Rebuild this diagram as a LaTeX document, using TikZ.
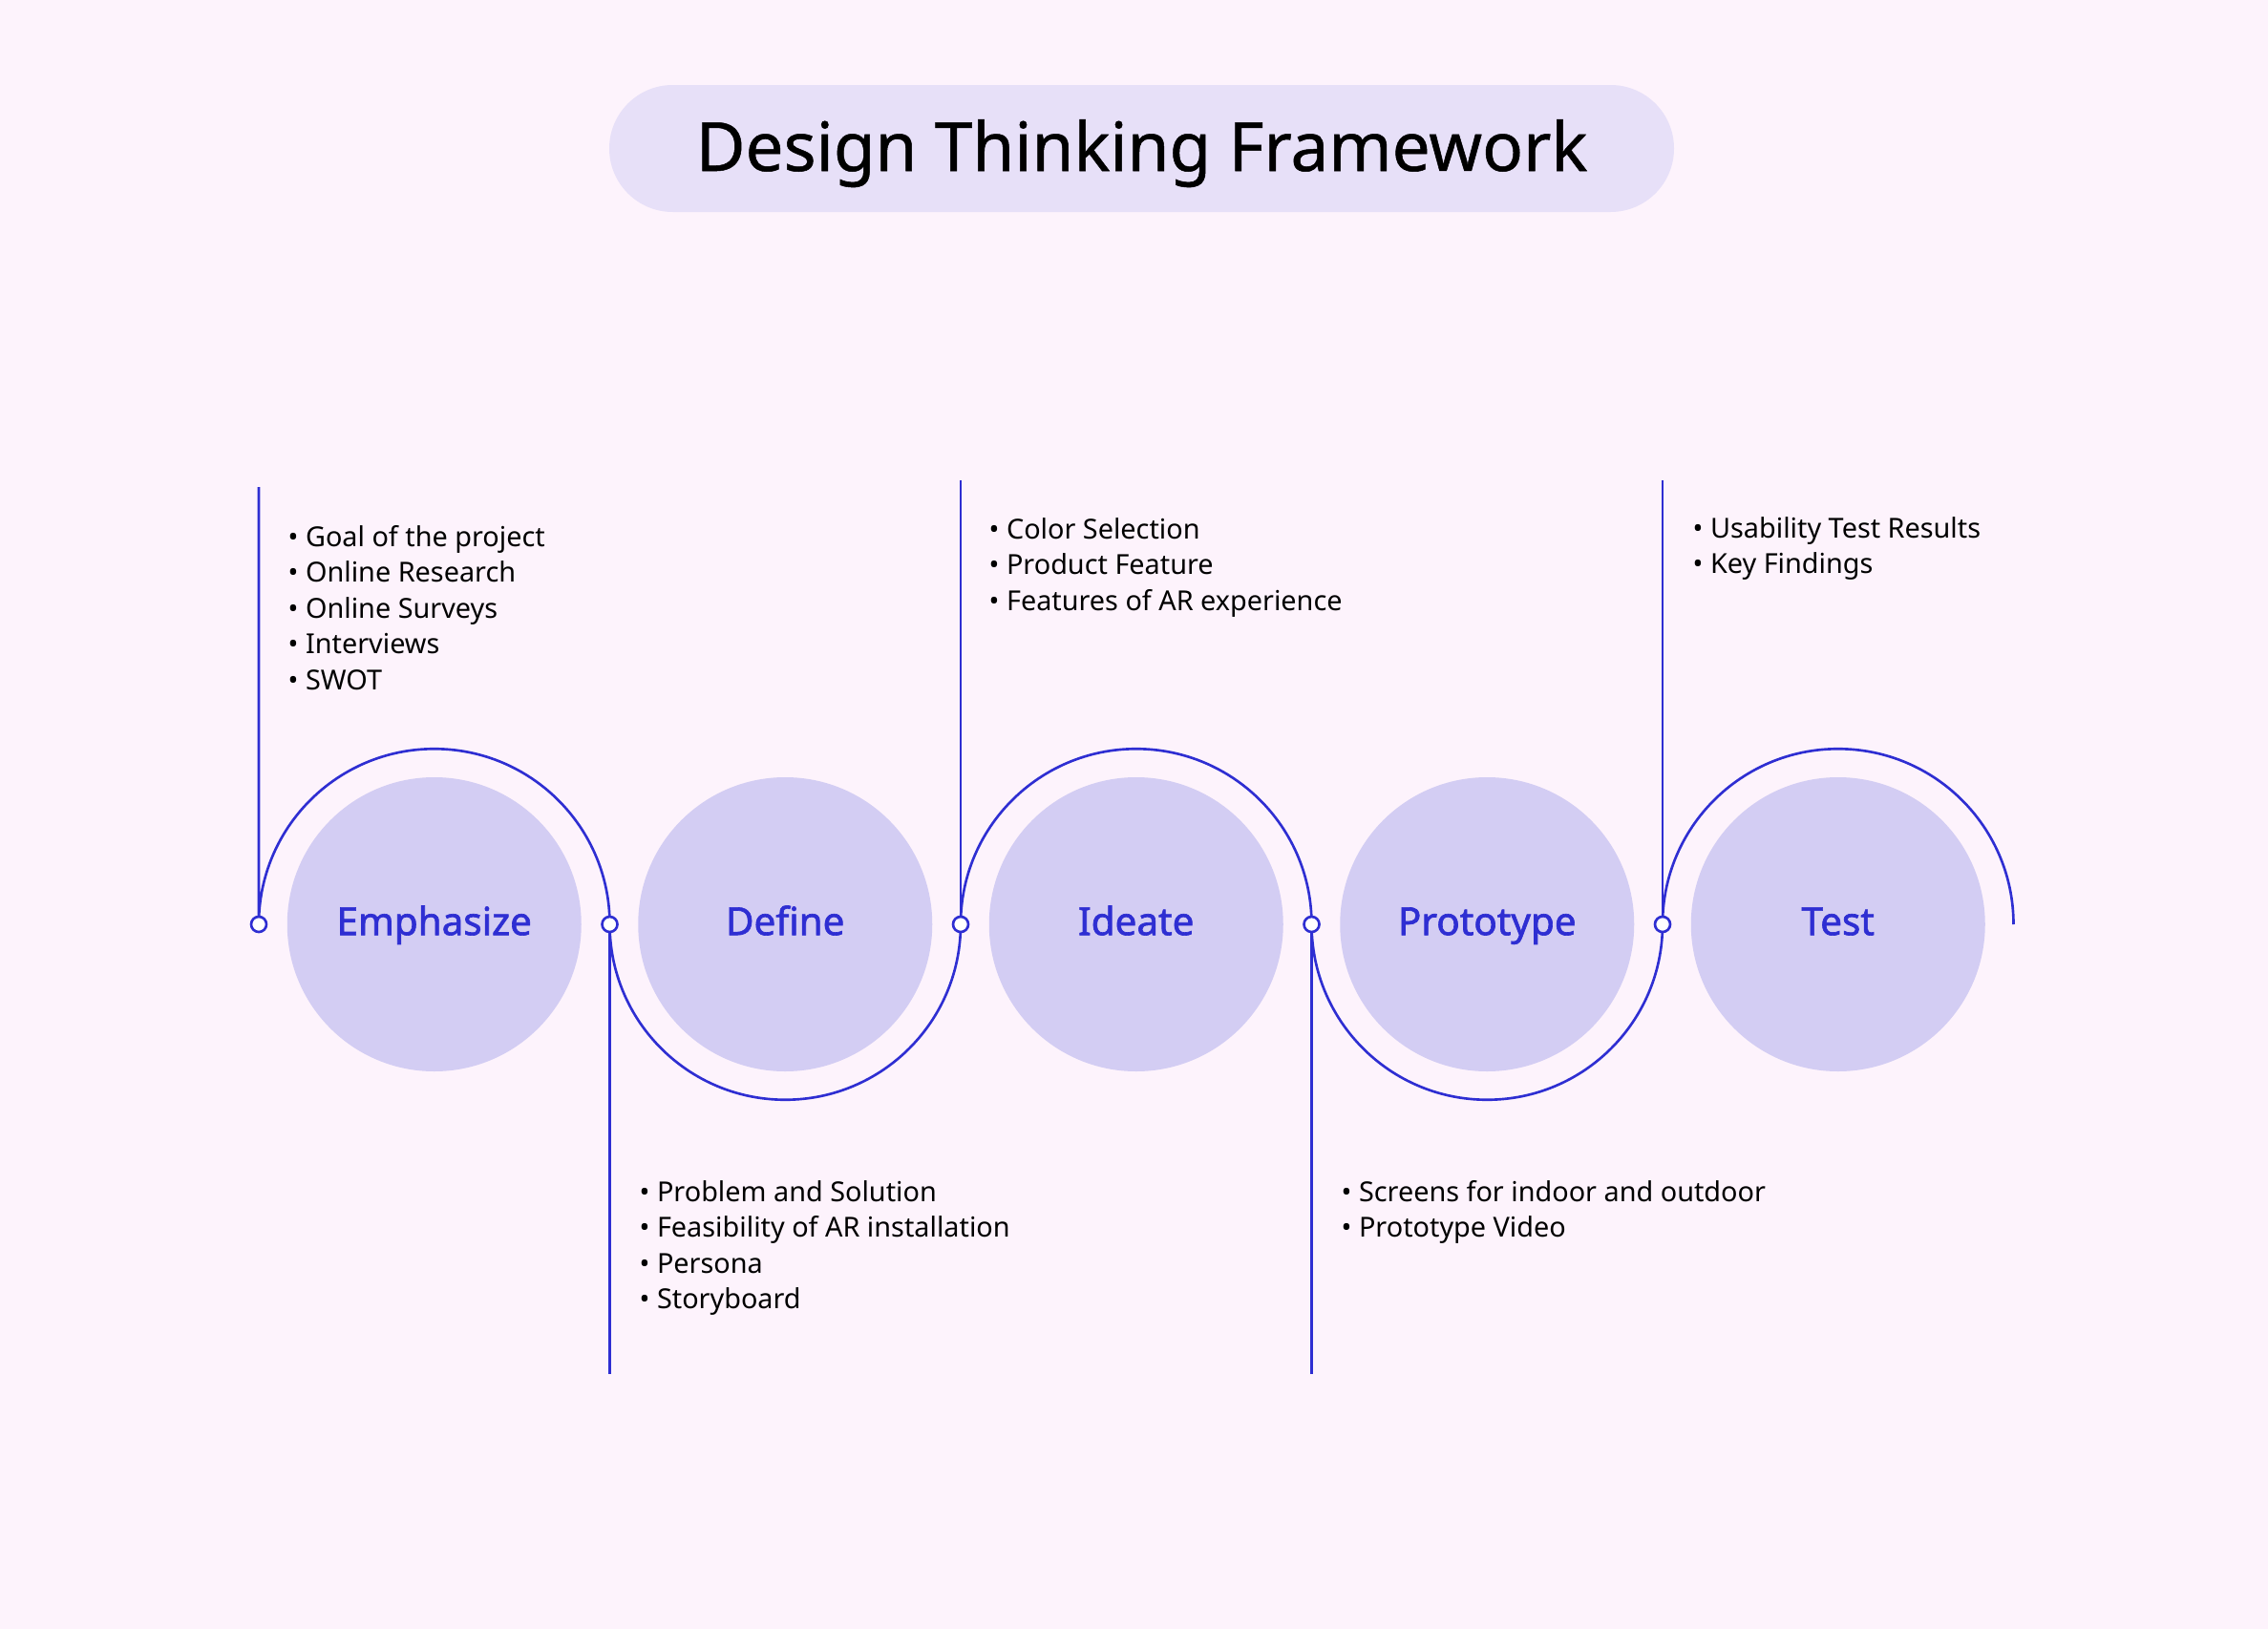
\documentclass[tikz,border=0pt]{standalone}
\usepackage{fontspec}
\setmainfont{Noto Sans}
\newfontfamily\stepfont[FakeBold=1.6]{Noto Sans}
\newfontfamily\titlefont[FakeBold=0.7]{Noto Sans}
\usepackage{xcolor}
\usetikzlibrary{positioning}

\definecolor{bgpink}{HTML}{FDF3FC}
\definecolor{pillfill}{HTML}{E7E0F8}
\definecolor{stepfill}{HTML}{D3CDF3}
\definecolor{linkblue}{HTML}{2E2ED2}

\newcommand{\itemlist}[1]{\begin{tabular}[t]{@{}l@{}}#1\end{tabular}}

\begin{document}
\begin{tikzpicture}[
    link/.style={draw=linkblue, line width=0.75pt},
    dot/.style={circle, draw=linkblue, fill=white, line width=0.75pt,
                minimum size=0.16cm, inner sep=0pt},
    stepnode/.style={circle, fill=stepfill, minimum size=3.08cm, inner sep=0pt,
                text=linkblue, text height=8pt, text depth=1.6pt,
                font=\fontsize{11.5pt}{14pt}\stepfont},
    listtext/.style={anchor=base west, inner sep=0pt,
                font=\fontsize{8.2pt}{10.67pt}\selectfont}
]
    % page
    \fill[bgpink] (0,0) rectangle (23.75,-17.06);
    \useasboundingbox (0,0) rectangle (23.75,-17.06);
    % title
    \node[fill=pillfill, rounded corners=0.665cm, minimum width=11.15cm,
          minimum height=1.33cm, inner sep=0pt, text height=15pt, text depth=1.6pt,
          font=\fontsize{20.2pt}{24pt}\titlefont] (title) at (11.955,-1.555)
        {Design Thinking Framework};
    % steps
    \node[stepnode] (emphasize) at (4.5475,-9.68)  {Emphasize};
    \node[stepnode] (define)    at (8.2225,-9.68)  {Define};
    \node[stepnode] (ideate)    at (11.8975,-9.68) {Ideate};
    \node[stepnode] (prototype) at (15.5725,-9.68) {Prototype};
    \node[stepnode] (test)      at (19.2475,-9.68) {Test};
    % joints and line ends
    \coordinate (p0) at (2.71,-9.68);
    \coordinate (p1) at (6.385,-9.68);
    \coordinate (p2) at (10.06,-9.68);
    \coordinate (p3) at (13.735,-9.68);
    \coordinate (p4) at (17.41,-9.68);
    \coordinate (t0) at (2.71,-5.10);
    \coordinate (b1) at (6.385,-14.39);
    \coordinate (t2) at (10.06,-5.03);
    \coordinate (b3) at (13.735,-14.39);
    \coordinate (t4) at (17.41,-5.03);
    % winding line
    \draw[link] (t0) -- (p0)
        arc[start angle=180, end angle=0,   radius=1.8375]
        arc[start angle=180, end angle=360, radius=1.8375]
        arc[start angle=180, end angle=0,   radius=1.8375]
        arc[start angle=180, end angle=360, radius=1.8375]
        arc[start angle=180, end angle=0,   radius=1.8375];
    \draw[link] (p1) -- (b1);
    \draw[link] (p2) -- (t2);
    \draw[link] (p3) -- (b3);
    \draw[link] (p4) -- (t4);
    \node[dot] (d0) at (p0) {};
    \node[dot] (d1) at (p1) {};
    \node[dot] (d2) at (p2) {};
    \node[dot] (d3) at (p3) {};
    \node[dot] (d4) at (p4) {};
    % lists
    \node[listtext] (emphasize-list) at (3.01,-5.724)
        {\itemlist{• Goal of the project\\ • Online Research\\ • Online Surveys\\
                   • Interviews\\ • SWOT}};
    \node[listtext] (define-list) at (6.69,-12.58)
        {\itemlist{• Problem and Solution\\ • Feasibility of AR installation\\
                   • Persona\\ • Storyboard}};
    \node[listtext] (ideate-list) at (10.35,-5.64)
        {\itemlist{• Color Selection\\ • Product Feature\\ • Features of AR experience}};
    \node[listtext] (prototype-list) at (14.04,-12.58)
        {\itemlist{• Screens for indoor and outdoor\\ • Prototype Video}};
    \node[listtext] (test-list) at (17.72,-5.63)
        {\itemlist{• Usability Test Results\\ • Key Findings}};
\end{tikzpicture}
\end{document}
